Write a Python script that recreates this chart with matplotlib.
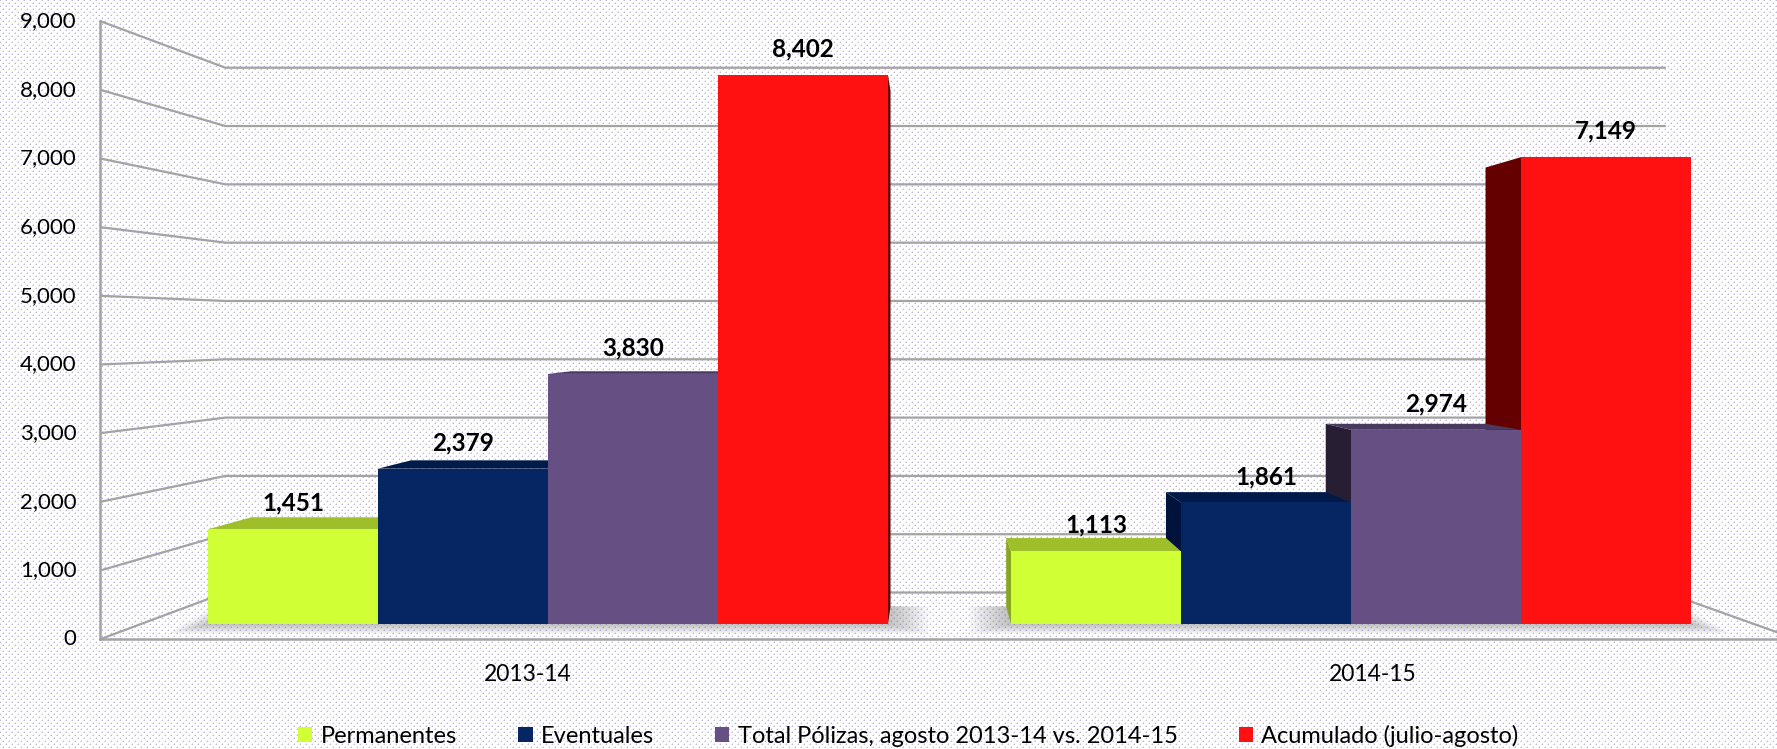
import numpy as np
import matplotlib
matplotlib.use('Agg')
import matplotlib.pyplot as plt
from matplotlib.patches import Polygon

# ---------------- data ----------------
categories = ['2013-14', '2014-15']
series = ['Permanentes', 'Eventuales',
          'Total Pólizas, agosto 2013-14 vs. 2014-15', 'Acumulado (julio-agosto)']
permanentes = [1451, 1113]
eventuales = [2379, 1861]
total_polizas = [3830, 2974]
acumulado = [8402, 7149]
y_ticks = [0, 1000, 2000, 3000, 4000, 5000, 6000, 7000, 8000, 9000]
y_tick_labels = ['0', '1,000', '2,000', '3,000', '4,000', '5,000',
                 '6,000', '7,000', '8,000', '9,000']

values = [permanentes, eventuales, total_polizas, acumulado]

# ---------------- style ----------------
front_colors = ['#D0FF36', '#052563', '#664F82', '#FF1111']
top_colors = ['#9EBE2A', '#001A4A', '#4A3A60', '#A00000']
side_colors = ['#8AA620', '#00133C', '#271E34', '#640000']
grid_color = '#A3A3A3'

plt.rcParams['font.family'] = ['Lato', 'DejaVu Sans']

W, H, DPI = 1777, 749, 100
fig = plt.figure(figsize=(W / DPI, H / DPI), dpi=DPI)

# dotted background texture
bg = np.ones((H, W, 3))
yy, xx = np.mgrid[0:H, 0:W]
dots = ((xx % 6 == 0) & (yy % 6 == 0)) | ((xx % 6 == 3) & (yy % 6 == 3))
soft = (((xx + 1) % 6 == 0) & (yy % 6 == 0)) | (((xx + 1) % 6 == 3) & (yy % 6 == 3)) | \
       ((xx % 6 == 0) & ((yy + 1) % 6 == 0)) | ((xx % 6 == 3) & ((yy + 1) % 6 == 3))
bg[soft] = np.array([228, 224, 240]) / 255.0
bg[dots] = np.array([190, 182, 218]) / 255.0
fig.figimage(bg, 0, 0, zorder=-10)

ax = fig.add_axes([0, 0, 1, 1])
ax.set_facecolor('none')
ax.set_axis_off()

# layout: group spacing and vertical scale (pixels)
group_px = 803.0
x0_px = 548.0
base_px = 624.0
px_per_val = 0.0653
ax.set_xlim((0 - x0_px) / group_px, (W - x0_px) / group_px)
ax.set_ylim((base_px - H) / px_per_val, base_px / px_per_val)

bar_w = 170.0 / group_px
group_x = np.arange(len(categories))

# perspective
xvp = (930.0 - x0_px) / group_px
vvp = (base_px - 330.0) / px_per_val
s_near, s_barback, s_wall = 1.052, 0.94, 0.893
xL, xR = (141.0 - x0_px) / group_px, (1754.0 - x0_px) / group_px


def proj(x, v, s):
    return (xvp + s * (x - xvp), vvp + s * (v - vvp))


# walls / gridlines
for v in y_ticks:
    pts = [proj(xL, v, s_near), proj(xL, v, s_wall), proj(xR, v, s_wall)]
    ax.plot([p[0] for p in pts], [p[1] for p in pts], color=grid_color,
            lw=1.6, zorder=1, solid_capstyle='butt')
# floor edges
p1, p2, p3 = proj(xL, 0, s_near), proj(xR, 0, s_near), proj(xR, 0, s_wall)
ax.plot([p1[0], p2[0]], [p1[1], p2[1]], color=grid_color, lw=1.8, zorder=1)
ax.plot([p2[0], p3[0]], [p2[1], p3[1]], color=grid_color, lw=1.6, zorder=1)
# vertical axis line
a0, a1 = proj(xL, 0, s_near), proj(xL, max(y_ticks), s_near)
ax.plot([a0[0], a1[0]], [a0[1], a1[1]], color=grid_color, lw=1.8, zorder=1)

# tick labels
for v, lab in zip(y_ticks, y_tick_labels):
    px, py = proj(xL, v, s_near)
    ax.annotate(lab, xy=(px, py), xytext=(-17, 0), textcoords='offset points',
                ha='right', va='center', fontsize=16, color='black')

# floor shadows under each group
n = len(series)
for g in group_x:
    gl = g - 2 * bar_w
    gr = g + 2 * bar_w
    for k in range(8):
        e = (8 - k) * 5.0 / group_px
        ev = (8 - k) * 1.2 / px_per_val
        poly = [proj(gl - e, -ev, 1.0), proj(gr + e, -ev, 1.0),
                proj(gr + e, 0, s_barback), proj(gl - e, 0, s_barback)]
        ax.add_patch(Polygon(poly, closed=True, facecolor='#6f6f6f',
                             edgecolor='none', alpha=0.06, zorder=2))

# bars
containers = []
for i, (vals, fc) in enumerate(zip(values, front_colors)):
    xs = group_x + (i - (n - 1) / 2) * bar_w
    bc = ax.bar(xs, vals, width=bar_w, bottom=0, color=fc, linewidth=0,
                label=series[i])
    containers.append(bc)
    for g, (patch, x, v) in enumerate(zip(bc.patches, xs, vals)):
        order = i if g == 0 else (n - 1 - i)
        z = 10 + 3 * order
        patch.set_zorder(z + 2)
        xl, xr = x - bar_w / 2, x + bar_w / 2
        # top face
        if v < vvp:
            poly = [proj(xl, v, 1), proj(xr, v, 1),
                    proj(xr, v, s_barback), proj(xl, v, s_barback)]
            ax.add_patch(Polygon(poly, closed=True, facecolor=top_colors[i],
                                 edgecolor='none', zorder=z + 1))
        # side face
        if xl > xvp:
            xe = xl
        elif xr < xvp:
            xe = xr
        else:
            xe = None
        if xe is not None:
            poly = [proj(xe, 0, 1), proj(xe, v, 1),
                    proj(xe, v, s_barback), proj(xe, 0, s_barback)]
            ax.add_patch(Polygon(poly, closed=True, facecolor=side_colors[i],
                                 edgecolor='none', zorder=z))
        # data label
        ax.annotate(f'{v:,}', xy=(x, v), xytext=(0, 26 * 72 / DPI),
                    textcoords='offset points', ha='center', va='center',
                    fontsize=17.5, fontweight='bold', color='black', zorder=40)

# category labels
for g, cat in zip(group_x, categories):
    px, py = proj(g, 0, s_near)
    ax.annotate(cat, xy=(px, py), xytext=(0, -35 * 72 / DPI),
                textcoords='offset points', ha='center', va='center',
                fontsize=16.5, color='black')

leg = fig.legend(handles=containers, labels=series, loc='center',
                 bbox_to_anchor=(908.5 / W, 13.0 / H), ncol=4, frameon=False,
                 fontsize=17, handlelength=0.6, handleheight=0.6,
                 handletextpad=0.35, columnspacing=2.6, borderpad=0,
                 borderaxespad=0)

fig.savefig('out.png', dpi=DPI)
